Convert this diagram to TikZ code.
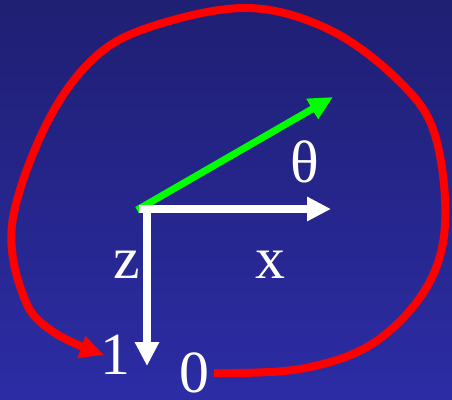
\documentclass[tikz,border=0pt]{standalone}
\usepackage{fontspec}
\setmainfont{Liberation Serif}
\usetikzlibrary{arrows.meta}
\definecolor{bgtop}{RGB}{31,31,115}
\definecolor{bgbot}{RGB}{44,44,165}
\tikzset{
  axis/.style={white, line width=7.5bp, -{Triangle[length=24bp,width=23bp]}},
  redcurve/.style={red, line width=8bp, -{Triangle[length=24bp,width=22bp]}},
  greenarrow/.style={green, line width=7bp, -{Triangle[length=24bp,width=22bp]}},
  lbl/.style={white, font=\fontsize{60}{60}\selectfont, inner sep=0pt},
}
\begin{document}
\begin{tikzpicture}[x=1bp,y=-1bp]
\shade[top color=bgtop, bottom color=bgbot] (0,0) rectangle (452,399);
\useasboundingbox (0,0) rectangle (452,399);
\coordinate (o) at (139,209);
\coordinate (ov) at (147,205);
\coordinate (xend) at (331,209);
\coordinate (zend) at (147,366);
\coordinate (thend) at (333,97);
\coordinate (og) at (137,210);
\draw[greenarrow] (og) -- (thend);
\draw[axis] (o) -- (xend);
\draw[axis] (ov) -- (zend);
\node[lbl] (z) at (127,265) {z};
\node[lbl] (x) at (270,265) {x};
\node[lbl] (th) at (305,162) {θ};
\node[lbl] (one) at (115,355) {1};
\node[lbl] (zero) at (194,373) {0};
\coordinate (start) at (214,373);
\coordinate (tip) at (104,355);
\draw[redcurve] plot[smooth, tension=0.6] coordinates {
 (start) (300,369) (372,344) (425,290) (445,225) (435,135) (400,82) (330,30)
 (247,8) (150,27) (92,60) (45,127) (12,225) (25,300) (55,333) (tip)};
\end{tikzpicture}
\end{document}
